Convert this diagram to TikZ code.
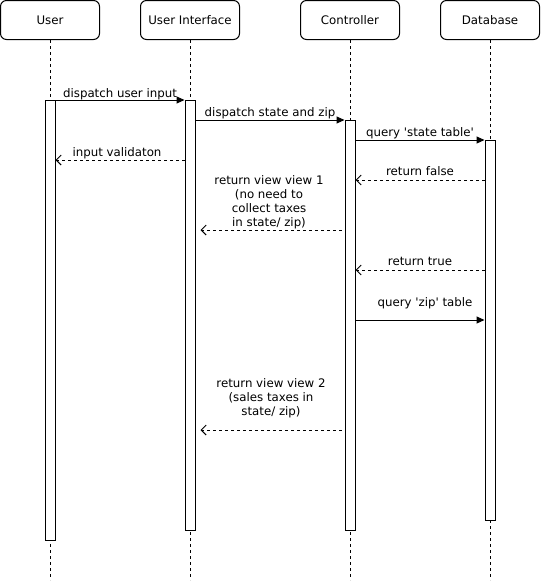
\documentclass[tikz,border=0pt]{standalone}
\usepackage{fontspec}
\setmainfont{DejaVu Sans}
\usetikzlibrary{arrows.meta}
\newcommand{\sq}{\textquotesingle}
\begin{document}
\begin{tikzpicture}[x=1pt,y=-1pt,line width=1pt,
  head/.style={draw,rounded corners=6pt,minimum width=99pt,minimum height=39pt,inner sep=0pt,font=\fontsize{11.8}{14}\selectfont},
  actbar/.style={draw,fill=white,minimum width=10pt,inner sep=0pt,anchor=north},
  life/.style={dash pattern=on 3pt off 3pt},
  call/.style={-{Triangle[length=8pt,width=7pt]}},
  ret/.style={dash pattern=on 3pt off 3pt,-{Straight Barb[length=5pt,width=10pt]}},
  lbl/.style={font=\fontsize{11.8}{14}\selectfont,inner sep=0pt,anchor=base,align=center}
]
\useasboundingbox (0,0) rectangle (541,581);
% heads
\node[head] (hu) at (50,20) {User};
\node[head] (hi) at (190,20) {User Interface};
\node[head] (hc) at (350,20) {Controller};
\node[head] (hd) at (490,20) {Database};
% lifeline ends
\coordinate (eu) at (50,580);
\coordinate (ei) at (190,580);
\coordinate (ec) at (350,580);
\coordinate (ed) at (490,580);
\draw[life] (hu.south) -- (eu);
\draw[life] (hi.south) -- (ei);
\draw[life] (hc.south) -- (ec);
\draw[life] (hd.south) -- (ed);
% activation bars
\node[actbar,minimum height=440pt] (bu) at (50,100) {};
\node[actbar,minimum height=430pt] (bi) at (190,100) {};
\node[actbar,minimum height=410pt] (bc) at (350,120) {};
\node[actbar,minimum height=380pt] (bd) at (490,140) {};
% messages
\draw[call] (bu.east |- 0,100) -- (bi.west |- 0,100);
\node[lbl] (l1) at (120,97) {dispatch user input};
\draw[call] (bi.east |- 0,120) -- (bc.west |- 0,120);
\node[lbl] (l2) at (270,116) {dispatch state and zip};
\draw[call] (bc.east |- 0,140) -- (bd.west |- 0,140);
\node[lbl] (l3) at (420,136) {query \sq state table\sq};
\draw[ret] (bi.west |- 0,160) -- (bu.east |- 0,160);
\node[lbl] (l4) at (117,156) {input validaton};
\draw[ret] (bd.west |- 0,180) -- (bc.east |- 0,180);
\node[lbl] (l5) at (420,175) {return false};
\draw[ret,shorten <=3pt,shorten >=5pt] (bc.west |- 0,230) -- (bi.east |- 0,230);
\node[lbl] (l6) at (269,226) {return view view 1\\(no need to\\collect taxes\\in state/ zip)};
\draw[ret] (bd.west |- 0,270) -- (bc.east |- 0,270);
\node[lbl] (l7) at (420,265) {return true};
\draw[call] (bc.east |- 0,320) -- (bd.west |- 0,320);
\node[lbl] (l8) at (425,306) {query \sq zip\sq{} table};
\draw[ret,shorten <=3pt,shorten >=5pt] (bc.west |- 0,430) -- (bi.east |- 0,430);
\node[lbl] (l9) at (271,415) {return view view 2\\(sales taxes in\\state/ zip)};
\end{tikzpicture}
\end{document}
